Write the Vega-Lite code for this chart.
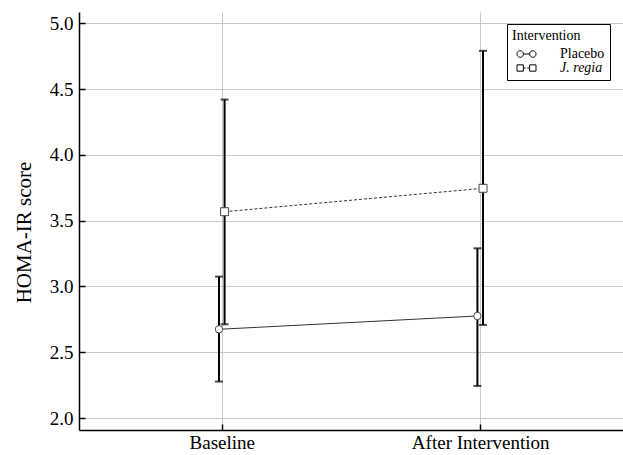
{
  "$schema": "https://vega.github.io/schema/vega-lite/v6.json",
  "width": 544,
  "height": 418,
  "autosize": "none",
  "padding": {"left": 79, "top": 12, "right": 0, "bottom": 25},
  "background": "white",
  "config": {
    "view": {"stroke": null},
    "font": "Liberation Serif, Times New Roman, serif",
    "axis": {
      "domainColor": "black",
      "domainWidth": 1.5,
      "tickColor": "black",
      "tickWidth": 1.5,
      "tickSize": -6,
      "gridColor": "#c8c8c8",
      "gridWidth": 1,
      "labelFont": "Liberation Serif, Times New Roman, serif",
      "labelFontSize": 19,
      "labelColor": "black",
      "titleFont": "Liberation Serif, Times New Roman, serif",
      "titleFontSize": 21,
      "titleFontWeight": "normal",
      "titleColor": "black"
    }
  },
  "data": {
    "values": [
      {"group": "Placebo", "time": "Baseline", "mean": 2.675, "lo": 2.278, "hi": 3.075},
      {"group": "Placebo", "time": "After Intervention", "mean": 2.776, "lo": 2.245, "hi": 3.29},
      {"group": "J. regia", "time": "Baseline", "mean": 3.568, "lo": 2.713, "hi": 4.42},
      {"group": "J. regia", "time": "After Intervention", "mean": 3.746, "lo": 2.708, "hi": 4.79}
    ]
  },
  "encoding": {
    "x": {
      "field": "time",
      "type": "nominal",
      "sort": ["Baseline", "After Intervention"],
      "scale": {"type": "point", "domain": ["Baseline", "After Intervention"], "padding": 0.5525},
      "axis": {"title": null, "labelAngle": 0, "labelPadding": 9, "grid": true}
    },
    "xOffset": {
      "field": "group",
      "type": "nominal",
      "scale": {"type": "point", "domain": ["Placebo", "J. regia"], "range": [-2.8, 2.8], "padding": 0}
    }
  },
  "layer": [
    {
      "mark": {"type": "rule", "color": "black", "strokeWidth": 2},
      "encoding": {
        "y": {
          "field": "lo",
          "type": "quantitative",
          "scale": {"domain": [1.91, 5.085], "nice": false, "zero": false},
          "axis": {
            "title": "HOMA-IR score",
            "values": [2, 2.5, 3, 3.5, 4, 4.5, 5],
            "format": ".1f",
            "labelPadding": 12,
            "titlePadding": 15,
            "titleY": 220,
            "grid": true
          }
        },
        "y2": {"field": "hi"}
      }
    },
    {
      "mark": {"type": "tick", "color": "black", "size": 8, "thickness": 2},
      "encoding": {"y": {"field": "lo", "type": "quantitative"}}
    },
    {
      "mark": {"type": "tick", "color": "black", "size": 8, "thickness": 2},
      "encoding": {"y": {"field": "hi", "type": "quantitative"}}
    },
    {
      "transform": [{"filter": "datum.group === 'Placebo'"}],
      "mark": {"type": "line", "strokeWidth": 1, "color": "#333333"},
      "encoding": {"y": {"field": "mean", "type": "quantitative"}}
    },
    {
      "transform": [{"filter": "datum.group === 'J. regia'"}],
      "mark": {"type": "line", "strokeWidth": 1, "color": "#333333", "strokeDash": [3, 2]},
      "encoding": {"y": {"field": "mean", "type": "quantitative"}}
    },
    {
      "transform": [{"filter": "datum.group === 'Placebo'"}],
      "mark": {"type": "point", "shape": "circle", "size": 55, "filled": true, "fill": "white", "stroke": "#444444", "strokeWidth": 1, "opacity": 1},
      "encoding": {"y": {"field": "mean", "type": "quantitative"}}
    },
    {
      "transform": [{"filter": "datum.group === 'J. regia'"}],
      "mark": {"type": "point", "shape": "square", "size": 64, "filled": true, "fill": "white", "stroke": "#444444", "strokeWidth": 1, "opacity": 1},
      "encoding": {"y": {"field": "mean", "type": "quantitative"}}
    },
    {
      "mark": {"type": "point", "opacity": 0, "filled": false, "color": "black"},
      "encoding": {
        "y": {"field": "mean", "type": "quantitative"},
        "shape": {
          "field": "group",
          "type": "nominal",
          "scale": {
            "domain": ["Placebo", "J. regia"],
            "range": [
              "M-2,0A0.667,0.667,0,1,0,-0.667,0A0.667,0.667,0,1,0,-2,0Z M-0.667,0L0.667,0 M0.667,0A0.667,0.667,0,1,0,2,0A0.667,0.667,0,1,0,0.667,0Z",
              "M-2,-0.667H-0.667V0.667H-2Z M-0.55,0H-0.15 M0.15,0H0.55 M0.667,-0.667H2V0.667H0.667Z"
            ]
          },
          "legend": {
            "title": "Intervention",
            "orient": "none",
            "legendX": 428,
            "legendY": 12,
            "padding": 5,
            "strokeColor": "black",
            "fillColor": "white",
            "titleFont": "Liberation Serif, Times New Roman, serif",
            "titleFontSize": 14,
            "titleFontWeight": "normal",
            "titleColor": "black",
            "titlePadding": 4,
            "labelFont": "Liberation Serif, Times New Roman, serif",
            "labelFontSize": 14,
            "labelColor": "black",
            "labelFontStyle": {"expr": "datum.value === 'J. regia' ? 'italic' : 'normal'"},
            "symbolSize": 90,
            "symbolOpacity": 1,
            "symbolStrokeColor": "black",
            "symbolFillColor": "white",
            "symbolStrokeWidth": 1,
            "symbolOffset": 7.5,
            "labelOffset": 26.5,
            "rowPadding": -3
          }
        }
      }
    }
  ]
}
